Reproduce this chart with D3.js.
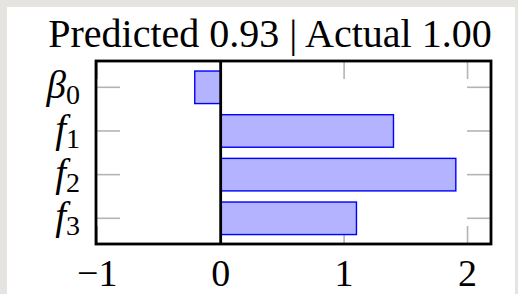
<!DOCTYPE html>
<html>
<head>
<meta charset="utf-8">
<script src="https://cdn.jsdelivr.net/npm/d3@7"></script>
<style>
  html, body { margin: 0; padding: 0; background: #e6e4e1; }
  svg { display: block; }
</style>
</head>
<body>
<svg id="chart" width="518" height="294"></svg>
<script>
// ---- data ----
const categories = ["beta0", "f1", "f2", "f3"];
const labelMain = ["β", "f", "f", "f"];
const labelSub = ["0", "1", "2", "3"];
const values = [-0.21, 1.40, 1.905, 1.10];
const xTicks = [-1, 0, 1, 2];
const xTickLabels = ["−1", "0", "1", "2"];
const title = "Predicted 0.93 | Actual 1.00";

// ---- layout ----
const W = 518, H = 294;
const frame = { left: 96, right: 491, top: 61, bottom: 244 };

const svg = d3.select("#chart");

// background panel
svg.append("rect").attr("x", 0).attr("y", 0).attr("width", W).attr("height", H).attr("fill", "#e6e4e1");
svg.append("rect").attr("x", 7).attr("y", 7).attr("width", 508).attr("height", H - 7).attr("fill", "#ffffff");

const x = d3.scaleLinear().domain([-1.01, 2.19]).range([frame.left, frame.right]);
const y = d3.scalePoint().domain(categories).range([87.3, 218.3]);
const step = y.step();
const barH = step * 0.745;

// ticks (grey, drawn behind bars)
const tickColor = "#b4b4b4";
const tickG = svg.append("g").attr("stroke", tickColor).attr("stroke-width", 1.6);
categories.forEach(c => {
  tickG.append("line").attr("x1", frame.left).attr("x2", frame.left + 24).attr("y1", y(c)).attr("y2", y(c));
  tickG.append("line").attr("x1", frame.right - 24).attr("x2", frame.right).attr("y1", y(c)).attr("y2", y(c));
});
xTicks.forEach(t => {
  tickG.append("line").attr("x1", x(t)).attr("x2", x(t)).attr("y1", frame.top).attr("y2", frame.top + 18);
  tickG.append("line").attr("x1", x(t)).attr("x2", x(t)).attr("y1", frame.bottom - 18).attr("y2", frame.bottom);
});

// bars
svg.append("g").selectAll("rect").data(values).join("rect")
  .attr("x", d => x(Math.min(0, d)))
  .attr("width", d => Math.abs(x(d) - x(0)))
  .attr("y", (d, i) => y(categories[i]) - barH / 2)
  .attr("height", barH)
  .attr("fill", "#b3b3ff")
  .attr("stroke", "#0000ff")
  .attr("stroke-width", 1.4);

// zero line
svg.append("line").attr("x1", x(0)).attr("x2", x(0)).attr("y1", frame.top).attr("y2", frame.bottom)
  .attr("stroke", "#000").attr("stroke-width", 2.8);

// frame
svg.append("rect").attr("x", frame.left).attr("y", frame.top)
  .attr("width", frame.right - frame.left).attr("height", frame.bottom - frame.top)
  .attr("fill", "none").attr("stroke", "#000").attr("stroke-width", 2.8);

// x tick labels
svg.append("g").selectAll("text").data(xTicks).join("text")
  .attr("x", d => x(d))
  .attr("y", 286)
  .attr("text-anchor", "middle")
  .attr("font-family", "'Liberation Serif', 'DejaVu Serif', serif")
  .attr("font-size", 38)
  .attr("fill", "#000")
  .text((d, i) => xTickLabels[i]);

// y tick labels
const yl = svg.append("g");
categories.forEach((c, i) => {
  const t = yl.append("text")
    .attr("x", 80)
    .attr("y", y(c) + 11)
    .attr("text-anchor", "end")
    .attr("font-family", "'Liberation Serif', 'DejaVu Serif', serif")
    .attr("fill", "#000");
  t.append("tspan").attr("font-style", "italic").attr("font-size", 39).text(labelMain[i]);
  t.append("tspan").attr("font-size", 28).attr("dy", 6).text(labelSub[i]);
});

// title
svg.append("text")
  .attr("x", 270)
  .attr("y", 47)
  .attr("text-anchor", "middle")
  .attr("font-family", "'Liberation Serif', 'Times New Roman', serif")
  .attr("font-size", 40)
  .attr("fill", "#000")
  .text(title);
</script>
</body>
</html>
